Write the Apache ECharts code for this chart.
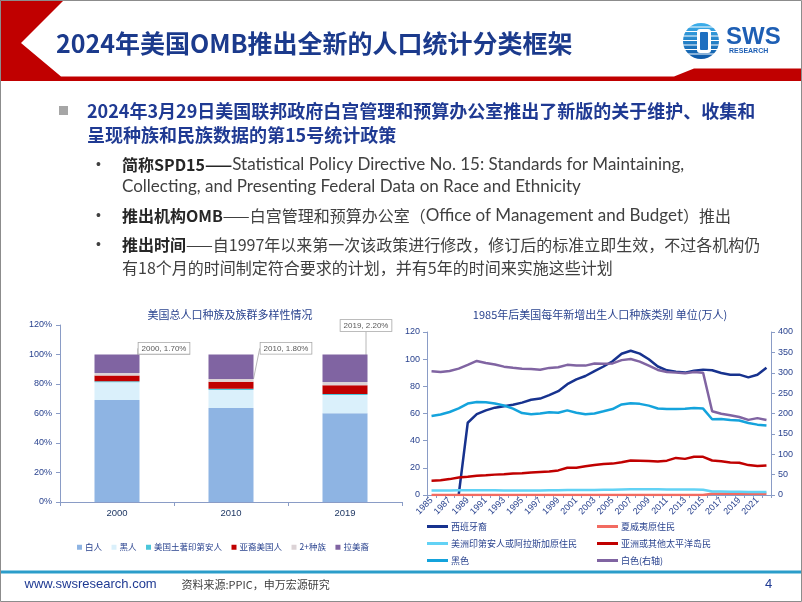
<!DOCTYPE html>
<html><head><meta charset="utf-8">
<script src="https://cdn.jsdelivr.net/npm/echarts@6/dist/echarts.min.js"></script>
<style>html,body{margin:0;padding:0;background:#fff}#c{width:802px;height:602px}</style>
</head><body><div id="c"></div>
<script>
// ---------- Left chart data (percent of total population) ----------
const barCategories = ['2000', '2010', '2019'];
const barWhite    = [69.1, 63.7, 60.1];
const barBlack    = [12.1, 12.3, 12.5];
const barNative   = [0.7, 0.7, 0.7];
const barAsian    = [3.8, 4.9, 5.9];
const barMulti    = [1.7, 1.8, 2.2];
const barHispanic = [12.6, 16.6, 18.6];
const barSeriesNames = ['白人', '黑人', '美国土著印第安人', '亚裔美国人', '2+种族', '拉美裔'];

// ---------- Right chart data (万人) ----------
const years = ['1985','1986','1987','1988','1989','1990','1991','1992','1993','1994',
  '1995','1996','1997','1998','1999','2000','2001','2002','2003','2004',
  '2005','2006','2007','2008','2009','2010','2011','2012','2013','2014',
  '2015','2016','2017','2018','2019','2020','2021','2022'];
const hispanic = [null,null,null,0,53.2,59.5,62.3,64.3,65.4,66.5,
  68.0,70.1,71.0,73.5,76.4,81.6,85.1,87.6,91.2,94.6,
  98.5,104.0,106.2,104.1,99.9,94.6,91.8,90.8,90.1,91.5,
  92.3,91.8,89.8,88.6,88.6,86.6,88.5,93.7];
const hawaiian = [0,0,0,0,0,0,0,0,0,0,
  0,0,0,0,0,0,0,0,0,0,
  0,0,0,0,0,0,0,0,0,0,
  0,0.95,0.96,0.97,0.98,0.97,0.98,1.0];
const amIndian = [3.3,3.3,3.4,3.5,3.5,3.5,3.5,3.5,3.4,3.4,
  3.4,3.4,3.4,3.5,3.5,3.6,3.6,3.6,3.7,3.8,
  3.9,4.1,4.3,4.3,4.3,4.2,4.1,4.1,4.0,4.0,
  3.9,2.6,2.5,2.4,2.4,2.3,2.2,2.2];
const asianPI = [10.5,10.8,11.7,12.9,13.4,14.2,14.5,15.0,15.3,15.8,
  16.0,16.5,17.0,17.3,18.1,20.1,20.1,21.1,22.1,22.9,
  23.1,24.1,25.4,25.3,25.1,24.7,25.3,27.3,26.6,28.2,
  28.1,25.4,24.9,24.0,23.8,22.0,21.4,21.8];
const black = [58.2,59.3,61.1,63.8,67.3,68.4,68.3,67.3,65.9,63.6,
  60.3,59.5,60.0,61.0,60.5,62.3,60.6,59.4,60.0,61.6,
  63.3,66.7,67.6,67.1,65.8,63.7,63.3,63.4,63.5,64.1,
  63.6,55.8,56.0,55.2,54.8,53.0,51.8,51.2];
const whiteRight = [303.8,301.9,304.4,310.2,319.2,329.0,324.1,320.2,315.0,312.1,
  309.9,309.3,307.3,311.9,313.3,319.4,317.8,317.5,322.5,322.3,
  322.9,331.0,333.6,327.4,317.3,306.9,302.0,300.3,298.5,302.0,
  300.0,205.6,199.2,195.6,191.5,184.3,188.7,184.1];
const lineSeriesNames = ['西班牙裔','夏威夷原住民','美洲印第安人或阿拉斯加原住民','亚洲或其他太平洋岛民','黑色','白色(右轴)'];

// ---------- Text ----------
const slideTitle = '2024年美国OMB推出全新的人口统计分类框架';
const leftTitle = '美国总人口种族及族群多样性情况';
const rightTitle = '1985年后美国每年新增出生人口种族类别 单位(万人)';

const CJK = '"Noto Sans CJK SC", sans-serif';
const LAT = 'Lato, "Noto Sans CJK SC", sans-serif';
const ARIAL = '"Liberation Sans", Arial, sans-serif';
const NAVY = '#1F3A93';
const AXISC = '#8A9CC6';
const LBLC = '#2A438F';

const chart = echarts.init(document.getElementById('c'), null, {renderer: 'canvas'});

const barColors = ['#8EB4E3', '#DAF0FB', '#4BC6DA', '#C00000', '#DCD3D6', '#8064A2'];
const barData = [barWhite, barBlack, barNative, barAsian, barMulti, barHispanic];
const calloutDx = [47, 55, 21];
const calloutDy = [-26, -32, -58];

const barSeries = barSeriesNames.map((n, i) => {
  const s = {
    name: n, type: 'bar', stack: 'pop', xAxisIndex: 0, yAxisIndex: 0,
    barWidth: 45, data: barData[i], itemStyle: {color: barColors[i]}
  };
  if (i === 4) {
    s.label = {
      show: true, position: 'inside',
      formatter: p => p.name + ', ' + p.value.toFixed(2) + '%',
      backgroundColor: '#fff', borderColor: '#A6A6A6', borderWidth: 0.8,
      padding: [2, 3, 1, 3], color: '#595959', fontSize: 8, fontFamily: ARIAL
    };
    s.labelLayout = p => ({dx: calloutDx[p.dataIndex], dy: calloutDy[p.dataIndex]});
    s.labelLine = {show: true, lineStyle: {color: '#A6A6A6', width: 0.8}};
  }
  return s;
});

const lineColors = ['#17328E', '#F26B61', '#62D2F5', '#C00000', '#14A3DC', '#8064A2'];
const lineData = [hispanic, hawaiian, amIndian, asianPI, black, whiteRight];
const lineSeries = lineSeriesNames.map((n, i) => ({
  name: n, type: 'line', xAxisIndex: 1, yAxisIndex: i === 5 ? 2 : 1,
  data: lineData[i], symbol: 'none', connectNulls: false,
  lineStyle: {width: 2.5, color: lineColors[i]}, itemStyle: {color: lineColors[i]}
}));

const richSub = {
  b: {fontSize: 16, fontWeight: 'bold', fontFamily: CJK, fill: '#262626'},
  e: {fontSize: 17, fontFamily: LAT, fill: '#404040'}
};

const graphics = [
  {type: 'rect', shape: {x: 0.5, y: 0.5, width: 801, height: 601}, style: {fill: 'none', stroke: '#8C8C8C', lineWidth: 1}, z: 100},
  {type: 'polygon', shape: {points: [[0,0],[64,0],[21,43],[61,76.5],[674,76.5],[694,68.5],[802,68.5],[802,81],[0,81]]}, style: {fill: '#C00000'}},
  {type: 'text', style: {x: 56, y: 43, text: slideTitle, fontSize: 25, fontWeight: 'bold', fontFamily: CJK, fill: '#1B3A8C', verticalAlign: 'middle'}},
  // logo
  {type: 'circle', shape: {cx: 701, cy: 41, r: 18}, style: {fill: new echarts.graphic.LinearGradient(0, 0, 0, 1, [{offset: 0, color: '#3DB0EC'}, {offset: 1, color: '#0D56A6'}])}},
  ...[27, 31.5, 36, 40.5, 45, 49.5, 54].map(y => ({type: 'line', shape: {x1: 682, y1: y, x2: 720, y2: y}, style: {stroke: '#fff', lineWidth: 1.2}})),
  {type: 'rect', shape: {x: 697, y: 29, width: 14, height: 24, r: 3}, style: {fill: '#fff'}},
  {type: 'rect', shape: {x: 700, y: 32, width: 8, height: 18, r: 1}, style: {fill: '#1E6FC0'}},
  {type: 'text', style: {x: 726, y: 37, text: 'SWS', fontSize: 24, fontWeight: 'bold', fontFamily: ARIAL, fill: '#1E5FB4', verticalAlign: 'middle'}},
  {type: 'text', style: {x: 729, y: 51.5, text: 'RESEARCH', fontSize: 7, fontWeight: 'bold', fontFamily: ARIAL, fill: '#1E5FB4', verticalAlign: 'middle'}},
  // bullets
  {type: 'rect', shape: {x: 59, y: 106, width: 9, height: 9}, style: {fill: '#A6A6A6'}},
  {type: 'text', style: {x: 87, y: 111, text: '2024年3月29日美国联邦政府白宫管理和预算办公室推出了新版的关于维护、收集和', fontSize: 18, fontWeight: 'bold', fontFamily: CJK, fill: NAVY, verticalAlign: 'middle'}},
  {type: 'text', style: {x: 87, y: 135, text: '呈现种族和民族数据的第15号统计政策', fontSize: 18, fontWeight: 'bold', fontFamily: CJK, fill: NAVY, verticalAlign: 'middle'}},
  ...[165, 216, 245].map(y => ({type: 'text', style: {x: 96, y: y, text: '•', fontSize: 14, fontFamily: ARIAL, fill: '#404040', verticalAlign: 'middle'}})),
  {type: 'text', style: {x: 122, y: 165, text: '{b|简称SPD15——}{e|Statistical Policy Directive No. 15: Standards for Maintaining,}', fontSize: 16, fontFamily: CJK, fill: '#404040', verticalAlign: 'middle', rich: richSub}},
  {type: 'text', style: {x: 122, y: 187, text: '{e|Collecting, and Presenting Federal Data on Race and Ethnicity}', fontSize: 16, fontFamily: CJK, fill: '#404040', verticalAlign: 'middle', rich: richSub}},
  {type: 'text', style: {x: 122, y: 216, text: '{b|推出机构OMB}——白宫管理和预算办公室（{e|Office of Management and Budget}）推出', fontSize: 16, fontFamily: CJK, fill: '#404040', verticalAlign: 'middle', rich: richSub}},
  {type: 'text', style: {x: 122, y: 245, text: '{b|推出时间}——自1997年以来第一次该政策进行修改，修订后的标准立即生效，不过各机构仍', fontSize: 16, fontFamily: CJK, fill: '#404040', verticalAlign: 'middle', rich: richSub}},
  {type: 'text', style: {x: 122, y: 268, text: '有18个月的时间制定符合要求的计划，并有5年的时间来实施这些计划', fontSize: 16, fontFamily: CJK, fill: '#404040', verticalAlign: 'middle'}},
  // chart titles
  {type: 'text', style: {x: 230, y: 315, text: leftTitle, fontSize: 11, fontFamily: CJK, fill: LBLC, align: 'center', verticalAlign: 'middle'}},
  {type: 'text', style: {x: 600, y: 315, text: rightTitle, fontSize: 11, fontFamily: CJK, fill: LBLC, align: 'center', verticalAlign: 'middle'}},
  // footer
  {type: 'line', shape: {x1: 0, y1: 572, x2: 802, y2: 572}, style: {stroke: '#2B9DCA', lineWidth: 3}},
  {type: 'text', style: {x: 24.5, y: 584.5, text: 'www.swsresearch.com', fontSize: 13, fontFamily: ARIAL, fill: NAVY, verticalAlign: 'middle'}},
  {type: 'text', style: {x: 181.5, y: 584.5, text: '资料来源:PPIC，申万宏源研究', fontSize: 11, fontFamily: CJK, fill: '#404040', verticalAlign: 'middle'}},
  {type: 'text', style: {x: 765, y: 584.5, text: '4', fontSize: 13, fontFamily: ARIAL, fill: NAVY, verticalAlign: 'middle'}}
];

const option = {
  animation: false,
  backgroundColor: '#fff',
  textStyle: {fontFamily: CJK},
  graphic: graphics,
  grid: [
    {left: 60, top: 325, width: 342, height: 177},
    {left: 427, top: 332, width: 344, height: 163}
  ],
  xAxis: [
    {type: 'category', gridIndex: 0, data: barCategories,
      axisLine: {lineStyle: {color: AXISC}}, axisTick: {show: true, length: 4, lineStyle: {color: AXISC}},
      axisLabel: {fontSize: 9.5, color: '#1F3864', margin: 6, fontFamily: ARIAL}},
    {type: 'category', gridIndex: 1, data: years, boundaryGap: true,
      axisLine: {lineStyle: {color: AXISC}}, axisTick: {show: true, interval: 0, length: 3, lineStyle: {color: AXISC}},
      axisLabel: {interval: 1, rotate: 45, fontSize: 9, color: LBLC, margin: 4, fontFamily: ARIAL}}
  ],
  yAxis: [
    {type: 'value', gridIndex: 0, min: 0, max: 120, interval: 20,
      axisLine: {show: true, lineStyle: {color: AXISC}}, axisTick: {show: true, length: 4, lineStyle: {color: AXISC}},
      splitLine: {show: false}, axisLabel: {formatter: '{value}%', fontSize: 9, color: LBLC, margin: 8, fontFamily: ARIAL}},
    {type: 'value', gridIndex: 1, min: 0, max: 120, interval: 20, position: 'left',
      axisLine: {show: true, lineStyle: {color: AXISC}}, axisTick: {show: true, length: 4, lineStyle: {color: AXISC}},
      splitLine: {show: false}, axisLabel: {fontSize: 9, color: LBLC, margin: 7, fontFamily: ARIAL}},
    {type: 'value', gridIndex: 1, min: 0, max: 400, interval: 50, position: 'right',
      axisLine: {show: true, lineStyle: {color: AXISC}}, axisTick: {show: true, length: 4, lineStyle: {color: AXISC}},
      splitLine: {show: false}, axisLabel: {fontSize: 9, color: LBLC, margin: 7, fontFamily: ARIAL}}
  ],
  legend: [
    {data: barSeriesNames, left: 77, top: 543, icon: 'rect', itemWidth: 5, itemHeight: 5, itemGap: 9.5, padding: 0,
      textStyle: {fontSize: 8.5, color: LBLC, fontFamily: CJK, padding: [0, 0, 0, -2]}},
    {data: [lineSeriesNames[0], lineSeriesNames[2], lineSeriesNames[4]], orient: 'vertical', left: 427, top: 522,
      icon: 'rect', itemWidth: 21, itemHeight: 3, itemGap: 8, padding: 0,
      textStyle: {fontSize: 9, color: LBLC, fontFamily: CJK, padding: [0, 0, 0, -2]}},
    {data: [lineSeriesNames[1], lineSeriesNames[3], lineSeriesNames[5]], orient: 'vertical', left: 597, top: 522,
      icon: 'rect', itemWidth: 21, itemHeight: 3, itemGap: 8, padding: 0,
      textStyle: {fontSize: 9, color: LBLC, fontFamily: CJK, padding: [0, 0, 0, -2]}}
  ],
  series: [...barSeries, ...lineSeries]
};
chart.setOption(option);
</script>
</body></html>
